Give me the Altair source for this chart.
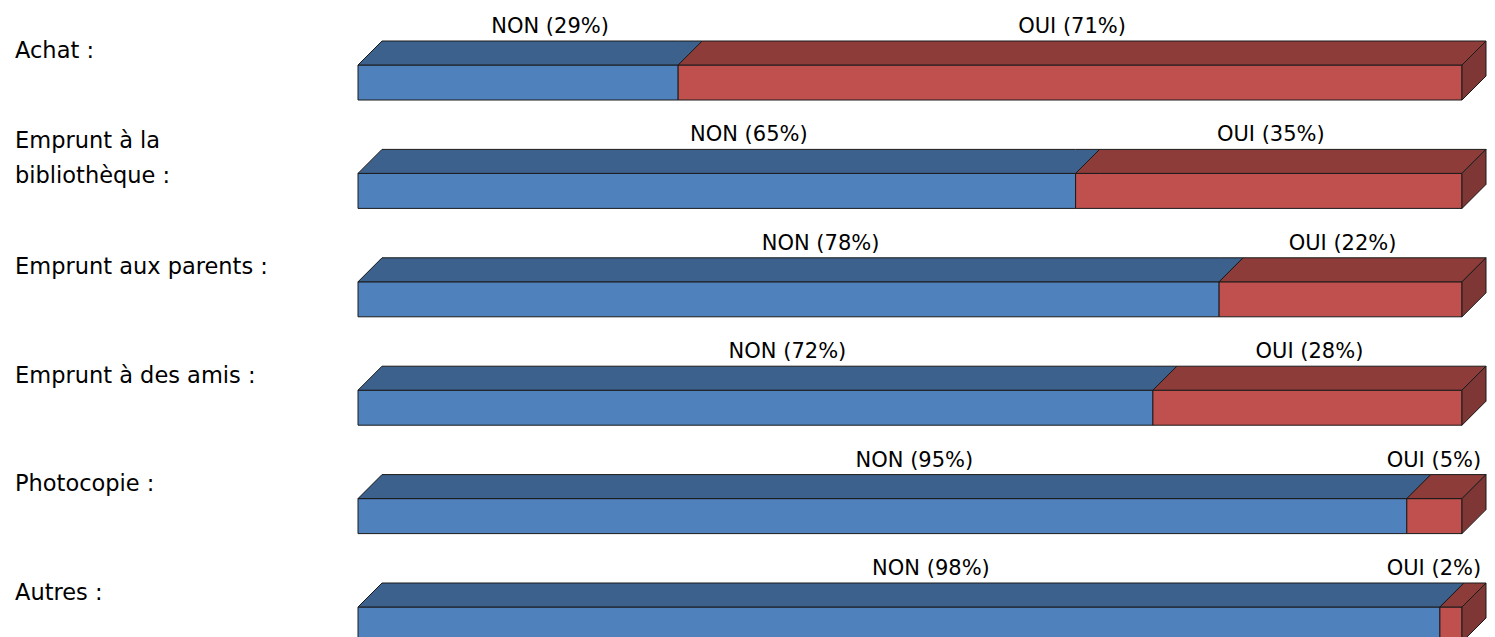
import altair as alt
import pandas as pd

# ---------------- data ----------------
categories = ["Achat :", "Emprunt à la\nbibliothèque :", "Emprunt aux parents :",
              "Emprunt à des amis :", "Photocopie :", "Autres :"]
series = ["NON", "OUI"]
non_pct = [29, 65, 78, 72, 95, 98]
oui_pct = [71, 35, 22, 28, 5, 2]

# ---------------- layout ----------------
W, H = 1479, 629
PX_PER_PCT = 11.04      # pixels per percent on x
BAR_LEFT = 350          # pixel where 0 % sits
ROW_STEP = 108.4        # pixels between rows
ROW0 = 74.5             # pixel centre of first front face
FRONT_H = 35
DEPTH = 24
LINE_H = 35
FONT = "DejaVu Sans"
LABEL_HALF_PCT = 4.9    # keeps the last end label inside the picture

xdom = [-BAR_LEFT / PX_PER_PCT, (W - BAR_LEFT) / PX_PER_PCT]
ydom = [-ROW0 / ROW_STEP, (H - ROW0) / ROW_STEP]
ddx = DEPTH / PX_PER_PCT
ddy = DEPTH / ROW_STEP
hf = FRONT_H / 2 / ROW_STEP

xs = alt.Scale(domain=xdom, nice=False, zero=False, padding=0)
ys = alt.Scale(domain=ydom, nice=False, zero=False, reverse=True, padding=0)

front_rows, top_rows, side_rows, lab_rows = [], [], [], []
for i, (cat, n, o) in enumerate(zip(categories, non_pct, oui_pct)):
    yt, yb = i - hf, i + hf
    nlines = cat.count("\n") + 1
    lab_rows.append({"ly": i - (nlines - 1) * LINE_H / 2 / ROW_STEP, "label": cat})
    segs = [("NON", 0, n), ("OUI", n, n + o)]
    for s, x0, x1 in segs:
        xc = (x0 + x1) / 2
        front_rows.append({"row": i, "series": s, "x0": x0, "x1": x1,
                           "xc": min(xc, 100 + ddx - LABEL_HALF_PCT), "ytop": yt - ddy,
                           "text": f"{s} ({x1 - x0}%)"})
        face = f"{i}-{s}"
        bps = sorted({x0, x0 + ddx, x1, x1 + ddx})

        def bottom(x):
            return yt if x <= x1 else yt - ddy * (x - x1) / ddx

        def top(x):
            return yt - ddy * (x - x0) / ddx if x <= x0 + ddx else yt - ddy

        for x in bps:
            top_rows.append({"face": face, "series": s, "px": x,
                             "ylo": bottom(x), "yhi": top(x)})
        if s == "OUI":
            side_rows.append({"face": face, "series": s, "px": x1, "ylo": yb, "yhi": yt})
            side_rows.append({"face": face, "series": s, "px": x1 + ddx,
                              "ylo": yb - ddy, "yhi": yt - ddy})

front_df = pd.DataFrame(front_rows)
top_df = pd.DataFrame(top_rows)
side_df = pd.DataFrame(side_rows)
lab_df = pd.DataFrame(lab_rows)

STROKE = "#1a1a1a"

front = alt.Chart(front_df).mark_bar(size=FRONT_H, stroke=STROKE, strokeWidth=1).encode(
    x=alt.X("x0:Q", scale=xs, axis=None),
    x2="x1:Q",
    y=alt.Y("row:Q", scale=ys, axis=None),
    color=alt.Color("series:N", scale=alt.Scale(domain=series, range=["#4F81BD", "#C0504D"]), legend=None),
)


def face_layer(df, colors):
    return alt.Chart(df).mark_area(orient="vertical", stroke=STROKE, strokeWidth=1,
                                   fillOpacity=1, strokeJoin="miter").encode(
        x=alt.X("px:Q", scale=xs, axis=None),
        y=alt.Y("ylo:Q", scale=ys, axis=None, stack=None),
        y2="yhi:Q",
        detail="face:N",
        color=alt.Color("series:N", scale=alt.Scale(domain=series, range=colors), legend=None),
    )


top = face_layer(top_df, ["#3C618C", "#8E3C3A"])
side = face_layer(side_df, ["#2F4D70", "#7E3735"])


def value_labels(s, offset):
    return alt.Chart(front_df).transform_filter(alt.datum.series == s).mark_text(
        font=FONT, fontSize=21, color="#000000", baseline="middle", align="center",
        dx=offset, dy=-14,
    ).encode(
        x=alt.X("xc:Q", scale=xs, axis=None),
        y=alt.Y("ytop:Q", scale=ys, axis=None),
        text="text:N",
    )


cat_labels = alt.Chart(lab_df).mark_text(
    font=FONT, fontSize=22.5, color="#000000", align="left", baseline="middle",
    dy=-32, lineBreak="\n", lineHeight=LINE_H,
).encode(
    x=alt.value(7),
    y=alt.Y("ly:Q", scale=ys, axis=None),
    text="label:N",
)

chart = alt.layer(
    front, top, side, value_labels("NON", 32), value_labels("OUI", 2), cat_labels
).resolve_scale(color="independent").properties(
    width=W, height=H, padding=0,
    autosize=alt.AutoSizeParams(type="none"),
).configure_view(stroke=None)

chart.save("out.html", embed_options={"renderer": "svg", "actions": False})
